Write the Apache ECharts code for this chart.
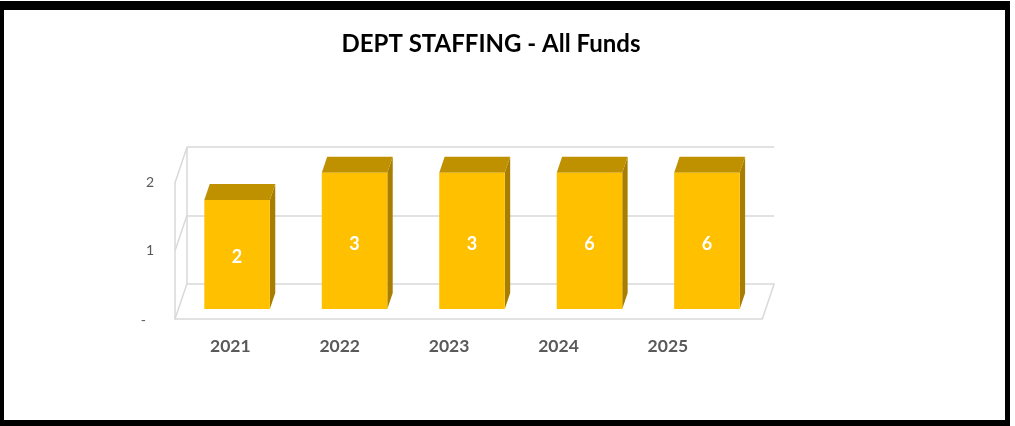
<!DOCTYPE html>
<html>
<head>
<meta charset="utf-8">
<script src="https://cdn.jsdelivr.net/npm/echarts@6/dist/echarts.min.js"></script>
<style>
  html, body { margin: 0; padding: 0; background: #ffffff; }
  #chart { width: 1015px; height: 426px; }
</style>
</head>
<body>
<div id="chart"></div>
<script>
// Staffing by fiscal year
const years = ['2021', '2022', '2023', '2024', '2025'];
const staffing = [2, 3, 3, 6, 6];

// Value axis: fixed range, three ticks
const axisMin = 0;
const axisMax = 2.5;
const axisStep = 1.25;
const tickLabels = ['-', '1', '2'];
const tickValues = [0, 1.25, 2.5];

// Pseudo-3D geometry (pixels): floor depth offset and bar depth band
const DEPTH_X = 12, DEPTH_Y = -35.5;
const BAR_FRONT = 0.28, BAR_BACK = 0.73;
const BAR_WIDTH_RATIO = 0.558;

// Front plane of the plot box
const FRONT = { left: 175, top: 182.7, width: 587.3, height: 136.3 };

const FONT = 'Lato, "Open Sans", sans-serif';
const WALL = '#d9d9d9';
const FACE = '#FFC000', TOP = '#BF9000', SIDE = '#A87E00';

const chart = echarts.init(document.getElementById('chart'), null, { renderer: 'canvas' });

function renderBar(params, api) {
  const i = api.value(0);
  const v = api.value(1);
  const base = api.coord([i, axisMin]);
  const top = api.coord([i, Math.min(v, axisMax)]);
  const band = api.size([1, 0])[0];
  const w = band * BAR_WIDTH_RATIO;
  const fx = BAR_FRONT * DEPTH_X, fy = BAR_FRONT * DEPTH_Y;
  const bx = (BAR_BACK - BAR_FRONT) * DEPTH_X, by = (BAR_BACK - BAR_FRONT) * DEPTH_Y;
  const x0 = base[0] - w / 2 + fx, x1 = x0 + w;
  const yb = base[1] + fy, yt = top[1] + fy;
  return {
    type: 'group',
    children: [
      { type: 'polygon', shape: { points: [[x1, yt], [x1 + bx, yt + by], [x1 + bx, yb + by], [x1, yb]] },
        style: { fill: SIDE } },
      { type: 'polygon', shape: { points: [[x0, yt], [x1, yt], [x1 + bx, yt + by], [x0 + bx, yt + by]] },
        style: { fill: TOP } },
      { type: 'rect', shape: { x: x0, y: yt, width: w, height: yb - yt },
        style: { fill: FACE } },
      { type: 'text', x: (x0 + x1) / 2, y: (yt + yb) / 2 + 3,
        style: { text: String(v), fill: '#ffffff', font: 'bold 18px ' + FONT,
                 align: 'center', verticalAlign: 'middle' } }
    ]
  };
}

// Side-wall connectors at each tick plus the right edge of the floor
function renderFrame(params, api) {
  const t = api.value(1);
  const cs = params.coordSys;
  const p = api.coord([0, t]);
  const left = cs.x;
  const children = [
    { type: 'line', shape: { x1: left, y1: p[1], x2: left + DEPTH_X, y2: p[1] + DEPTH_Y },
      style: { stroke: WALL, lineWidth: 1.5 } }
  ];
  if (t === axisMin) {
    const right = cs.x + cs.width;
    children.push({ type: 'line', shape: { x1: right, y1: p[1], x2: right + DEPTH_X, y2: p[1] + DEPTH_Y },
      style: { stroke: WALL, lineWidth: 1.5 } });
  }
  return { type: 'group', children };
}

const option = {
  animation: false,
  backgroundColor: '#ffffff',
  graphic: [
    { type: 'rect', z: -10, shape: { x: 0, y: 1, width: 1010, height: 425 }, style: { fill: '#000000' } },
    { type: 'rect', z: -9, shape: { x: 4, y: 10, width: 1001, height: 410 }, style: { fill: '#ffffff' } },
    { type: 'text', x: 491, y: 44,
      style: { text: 'DEPT STAFFING - All Funds', font: 'bold 24px ' + FONT, fill: '#000000',
               align: 'center', verticalAlign: 'middle' } }
  ],
  grid: [
    // front plane (floor front edge, side-wall front edge, value labels)
    { left: FRONT.left, top: FRONT.top, width: FRONT.width, height: FRONT.height },
    // back wall with gridlines
    { left: FRONT.left + DEPTH_X, top: FRONT.top + DEPTH_Y, width: FRONT.width, height: FRONT.height },
    // category labels row
    { left: 175.6, top: 330, width: 547, height: 1 }
  ],
  xAxis: [
    { gridIndex: 0, type: 'category', data: years,
      axisLine: { show: true, lineStyle: { color: WALL, width: 1.5 } },
      axisTick: { show: false }, axisLabel: { show: false }, splitLine: { show: false } },
    { gridIndex: 1, type: 'category', data: years, show: false },
    { gridIndex: 2, type: 'category', data: years,
      axisLine: { show: false }, axisTick: { show: false },
      axisLabel: { margin: 6, color: '#595959', fontFamily: FONT, fontWeight: 'bold', fontSize: 17.5 } }
  ],
  yAxis: [
    { gridIndex: 0, type: 'value', min: axisMin, max: axisMax, interval: axisStep,
      axisLine: { show: true, lineStyle: { color: WALL, width: 1.5 } },
      axisTick: { show: false }, splitLine: { show: false },
      axisLabel: {
        margin: 21, color: '#595959', fontFamily: FONT, fontSize: 14,
        formatter: (val, idx) => idx === 0 ? '{dash|' + tickLabels[0] + '}' : tickLabels[idx],
        rich: { dash: { padding: [2, 8, 0, 0], color: '#595959', fontFamily: FONT, fontSize: 14 } }
      } },
    { gridIndex: 1, type: 'value', min: axisMin, max: axisMax, interval: axisStep,
      axisLine: { show: true, lineStyle: { color: WALL, width: 1.5 } },
      axisTick: { show: false }, axisLabel: { show: false },
      splitLine: { show: true, lineStyle: { color: WALL, width: 1.5 } } },
    { gridIndex: 2, type: 'value', show: false }
  ],
  series: [
    { type: 'custom', xAxisIndex: 0, yAxisIndex: 0, clip: false, z: 1,
      data: tickValues.map(t => [0, t]), renderItem: renderFrame, silent: true },
    { type: 'custom', xAxisIndex: 0, yAxisIndex: 0, clip: false, z: 3,
      data: staffing.map((v, i) => [i, v]), renderItem: renderBar }
  ]
};

chart.setOption(option);
</script>
</body>
</html>
